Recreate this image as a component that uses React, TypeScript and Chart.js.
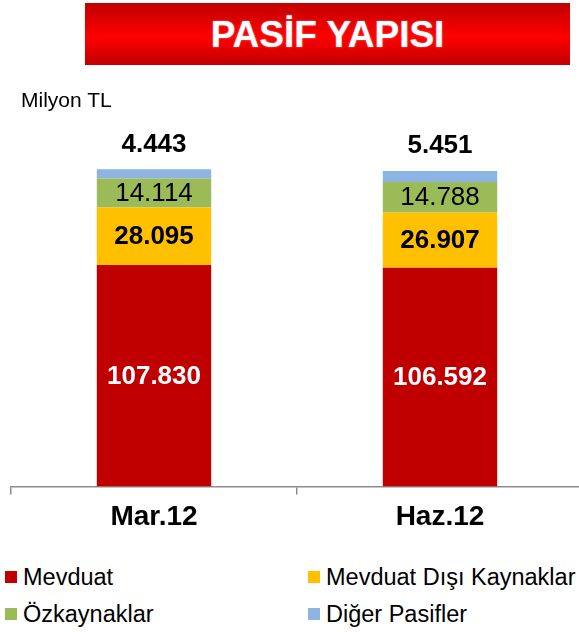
import React, { useEffect, useRef } from "react";
import { Chart, registerables } from "chart.js";

Chart.register(...registerables);

const title = "PASİF YAPISI";
const unitLabel = "Milyon TL";
const categories = ["Mar.12", "Haz.12"];
const seriesNames = ["Mevduat", "Mevduat Dışı Kaynaklar", "Özkaynaklar", "Diğer Pasifler"];
const mevduat = [107830, 106592];
const mevduatDisi = [28095, 26907];
const ozkaynaklar = [14114, 14788];
const digerPasifler = [4443, 5451];
const seriesColors = ["#C00000", "#FFC000", "#9BBB59", "#8DB4E2"];
const labelColors = ["#FFFFFF", "#000000", "#000000", "#000000"];
const labelWeights = ["bold", "bold", "normal", "bold"];
const labelAbove = [false, false, false, true];

const FONT = "'Liberation Sans', Arial, Helvetica, sans-serif";

const fmt = (v: number) => String(Math.round(v)).replace(/\B(?=(\d{3})+(?!\d))/g, ".");

const valueLabels = {
  id: "valueLabels",
  afterDatasetsDraw(chart: any) {
    const ctx = chart.ctx;
    chart.data.datasets.forEach((ds: any, i: number) => {
      const meta = chart.getDatasetMeta(i);
      meta.data.forEach((el: any, j: number) => {
        const v = ds.data[j];
        if (v == null) return;
        const { x, y, base } = el.getProps(["x", "y", "base"], true);
        ctx.save();
        ctx.font = `${labelWeights[i]} 26px ${FONT}`;
        ctx.fillStyle = labelColors[i];
        ctx.textAlign = "center";
        ctx.textBaseline = "middle";
        const ty = labelAbove[i] ? y - 25 : (y + base) / 2 + 1;
        ctx.fillText(fmt(v), x, ty);
        ctx.restore();
      });
    });
  },
};

function ChartCanvas() {
  const ref = useRef<HTMLCanvasElement | null>(null);
  useEffect(() => {
    if (!ref.current) return;
    const values = [mevduat, mevduatDisi, ozkaynaklar, digerPasifler];
    const chart = new Chart(ref.current, {
      type: "bar",
      data: {
        labels: categories,
        datasets: seriesNames.map((name, i) => ({
          label: name,
          data: values[i],
          backgroundColor: seriesColors[i],
          borderWidth: 0,
          barPercentage: 0.4,
          categoryPercentage: 1,
        })),
      },
      options: {
        responsive: false,
        animation: false,
        devicePixelRatio: 1,
        layout: { padding: { left: 11, right: 17, top: 117, bottom: 0 } },
        plugins: {
          legend: { display: false },
          tooltip: { enabled: false },
          title: { display: false },
        },
        scales: {
          x: {
            stacked: true,
            grid: {
              display: true,
              drawOnChartArea: false,
              drawTicks: true,
              tickLength: 8,
              color: "#8C8C8C",
              lineWidth: 1.5,
            },
            border: { display: true, color: "#8C8C8C", width: 1.5 },
            ticks: {
              color: "#000000",
              padding: 6,
              font: { family: FONT, size: 28, weight: "bold" },
            },
          },
          y: {
            stacked: true,
            display: false,
            min: 0,
            max: 180000,
          },
        },
      },
      plugins: [valueLabels],
    });
    return () => chart.destroy();
  }, []);
  return (
    <canvas
      ref={ref}
      width={600}
      height={540}
      style={{ position: "absolute", left: 0, top: 0, width: 600, height: 540 }}
    />
  );
}

export default function App() {
  const legendPos = [
    { left: 5, top: 577 },
    { left: 308, top: 577 },
    { left: 5, top: 614 },
    { left: 308, top: 614 },
  ];
  return (
    <div
      style={{
        position: "absolute",
        left: 0,
        top: 0,
        width: 579,
        height: 632,
        overflow: "hidden",
        background: "#FFFFFF",
        fontFamily: FONT,
      }}
    >
      <ChartCanvas />
      <div
        style={{
          position: "absolute",
          left: 85,
          top: 3,
          width: 485,
          height: 62,
          background: "linear-gradient(to bottom, #C00000 0%, #FF0000 55%, #C00000 100%)",
          color: "#FFFFFF",
          fontWeight: "bold",
          fontSize: 37,
          lineHeight: "64px",
          textAlign: "center",
          textShadow: "0 0 2px rgba(255,255,255,0.5)",
        }}
      >
        {title}
      </div>
      <div
        style={{
          position: "absolute",
          left: 21,
          top: 88,
          fontSize: 21,
          lineHeight: "24px",
          color: "#000000",
          whiteSpace: "nowrap",
        }}
      >
        {unitLabel}
      </div>
      {seriesNames.map((name, i) => (
        <div
          key={name}
          style={{
            position: "absolute",
            left: legendPos[i].left,
            top: legendPos[i].top - 14,
            height: 28,
            display: "flex",
            alignItems: "center",
            whiteSpace: "nowrap",
            fontSize: 23.5,
            color: "#000000",
          }}
        >
          <span
            style={{
              display: "inline-block",
              width: 12,
              height: 12,
              background: seriesColors[i],
              marginRight: 6,
            }}
          />
          <span>{name}</span>
        </div>
      ))}
    </div>
  );
}
